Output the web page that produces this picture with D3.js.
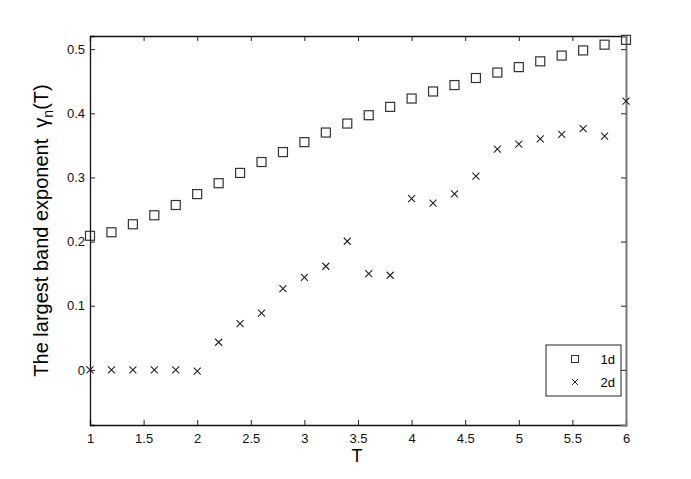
<!DOCTYPE html>
<html>
<head>
<meta charset="utf-8">
<script src="https://cdn.jsdelivr.net/npm/d3@7"></script>
<style>
body { margin: 0; background: #fff; }
text { font-family: "Liberation Sans", Arial, sans-serif; }
</style>
</head>
<body>
<svg width="691" height="479"></svg>
<script>
var T = [1, 1.2, 1.4, 1.6, 1.8, 2, 2.2, 2.4, 2.6, 2.8, 3, 3.2, 3.4, 3.6, 3.8,
         4, 4.2, 4.4, 4.6, 4.8, 5, 5.2, 5.4, 5.6, 5.8, 6];
var gamma1d = [0.209, 0.2145, 0.227, 0.241, 0.257, 0.274, 0.291, 0.307, 0.324, 0.3395,
               0.355, 0.370, 0.384, 0.397, 0.410, 0.423, 0.434, 0.444, 0.455, 0.4635,
               0.472, 0.481, 0.490, 0.498, 0.507, 0.5145];
var gamma2d = [0, 0, 0, 0, 0, -0.002, 0.043, 0.072, 0.0885, 0.1265,
               0.144, 0.1615, 0.2005, 0.150, 0.1475, 0.267, 0.260, 0.2745, 0.302, 0.344,
               0.352, 0.360, 0.367, 0.376, 0.3645, 0.419];
var xTicks = [1, 1.5, 2, 2.5, 3, 3.5, 4, 4.5, 5, 5.5, 6];
var yTicks = [0, 0.1, 0.2, 0.3, 0.4, 0.5];
var legendNames = ["1d", "2d"];

var svg = d3.select("svg");
var mLeft = 90, mRight = 626, mTop = 36, mBottom = 425;

var x = d3.scaleLinear().domain([1, 6]).range([mLeft, mRight]);
var y = d3.scaleLinear().domain([-0.086, 0.5205]).range([mBottom, mTop]);

var g = svg.append("g");

// ticks on all four sides, pointing in
var fmt = function (d) { return d3.format("")(d); };
g.append("g")
    .attr("transform", "translate(0," + mBottom + ")")
    .call(d3.axisBottom(x).tickValues(xTicks).tickSize(-5).tickPadding(9).tickFormat(fmt));
g.append("g")
    .attr("transform", "translate(0," + mTop + ")")
    .call(d3.axisTop(x).tickValues(xTicks).tickSize(-5).tickFormat(""));
g.append("g")
    .attr("transform", "translate(" + mLeft + ",0)")
    .call(d3.axisLeft(y).tickValues(yTicks).tickSize(-5).tickPadding(5).tickFormat(fmt));
g.append("g")
    .attr("class", "rightaxis")
    .attr("transform", "translate(" + mRight + ",0)")
    .call(d3.axisRight(y).tickValues(yTicks).tickSize(-5).tickFormat(""));

g.selectAll(".domain").attr("stroke", "#111").attr("stroke-width", 1.3);
g.selectAll(".tick line").attr("stroke", "#222");
g.selectAll(".tick text").attr("font-size", 13).attr("fill", "#111");
g.select(".rightaxis .domain").attr("stroke", "#777").attr("stroke-width", 2);

// 1d squares
svg.append("g").selectAll("rect")
    .data(T)
    .enter().append("rect")
    .attr("x", function (d) { return x(d) - 4.5; })
    .attr("y", function (d, i) { return y(gamma1d[i]) - 4.5; })
    .attr("width", 9)
    .attr("height", 9)
    .attr("fill", "none")
    .attr("stroke", "#333")
    .attr("stroke-width", 1.2);

// 2d crosses
function cross(cx, cy, s) {
    return "M" + (cx - s) + "," + (cy - s) + "L" + (cx + s) + "," + (cy + s) +
           "M" + (cx - s) + "," + (cy + s) + "L" + (cx + s) + "," + (cy - s);
}
svg.append("g").selectAll("path")
    .data(T)
    .enter().append("path")
    .attr("d", function (d, i) { return cross(x(d), y(gamma2d[i]), 3.5); })
    .attr("fill", "none")
    .attr("stroke", "#222")
    .attr("stroke-width", 1.1);

// axis labels
svg.append("text")
    .attr("x", (mLeft + mRight) / 2 - 1)
    .attr("y", 462)
    .attr("text-anchor", "middle")
    .attr("font-size", 18)
    .text("T");

var yl = svg.append("text")
    .attr("transform", "translate(48," + ((mTop + mBottom) / 2) + ") rotate(-90)")
    .attr("text-anchor", "middle")
    .attr("font-size", 20);
yl.append("tspan").text("The largest band exponent \u00a0\u03b3");
yl.append("tspan").attr("font-size", 14).attr("dy", 5).text("n");
yl.append("tspan").attr("dy", -5).text("(T)");

// legend
var lg = svg.append("g").attr("transform", "translate(546,345)");
lg.append("rect")
    .attr("width", 75).attr("height", 51)
    .attr("fill", "#fff").attr("stroke", "#222").attr("stroke-width", 1);
lg.append("rect")
    .attr("x", 29 - 3.5).attr("y", 14 - 3.5).attr("width", 7).attr("height", 7)
    .attr("fill", "none").attr("stroke", "#333").attr("stroke-width", 1);
lg.append("path")
    .attr("d", cross(29, 37, 3))
    .attr("stroke", "#222").attr("stroke-width", 1);
lg.selectAll("text.lab")
    .data(legendNames)
    .enter().append("text")
    .attr("class", "lab")
    .attr("x", 69)
    .attr("y", function (d, i) { return 19 + i * 23; })
    .attr("text-anchor", "end")
    .attr("font-size", 13)
    .text(function (d) { return d; });
</script>
</body>
</html>
